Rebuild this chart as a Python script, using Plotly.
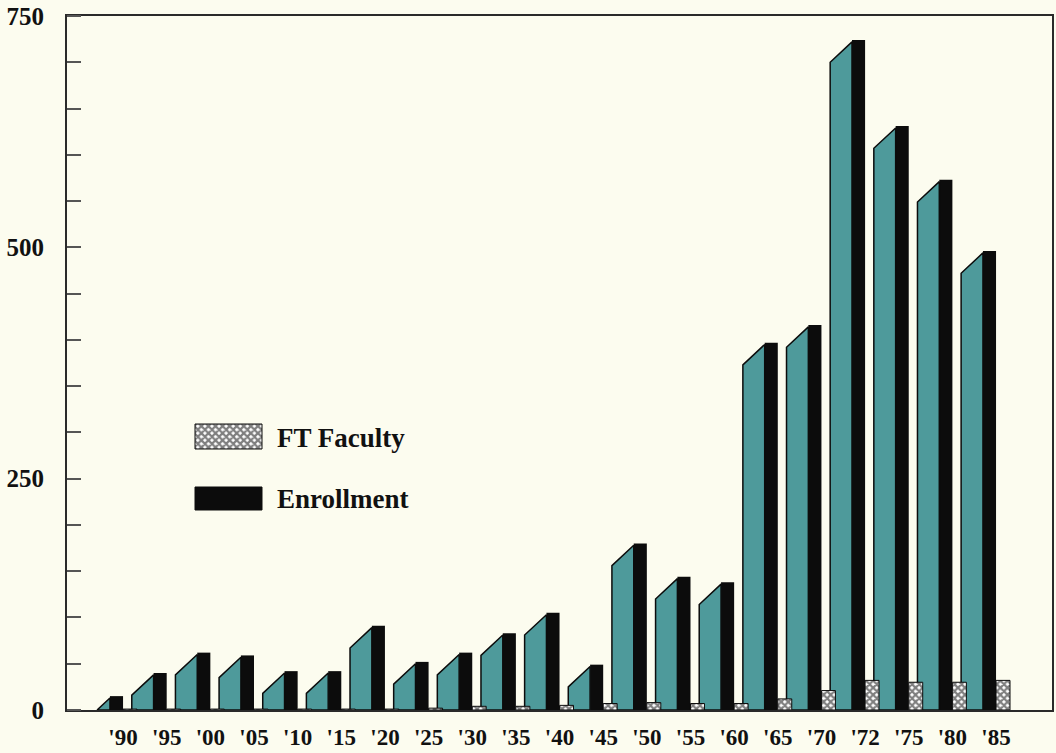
import plotly.graph_objects as go

# ---- data -------------------------------------------------------------
years = ["'90", "'95", "'00", "'05", "'10", "'15", "'20", "'25", "'30", "'35", "'40",
         "'45", "'50", "'55", "'60", "'65", "'70", "'72", "'75", "'80", "'85"]
enrollment = [15, 40, 62, 59, 42, 42, 91, 52, 62, 83, 105,
              49, 180, 144, 138, 397, 416, 724, 631, 573, 496]
ft_faculty = [1, 1, 1, 1, 1, 1, 1, 2, 4, 4, 5,
              7, 8, 7, 7, 12, 21, 32, 30, 30, 32]
y_tick_vals = [0, 250, 500, 750]

# ---- style ------------------------------------------------------------
BG = "#FCFCEF"
TEAL = "#4E9A9B"
INK = "#0c0c0c"
AXIS = "#2a2a2a"
SERIF = "Liberation Serif, Times New Roman, serif"
Y_FONT = dict(family=SERIF, size=25, color="#111")
X_FONT = dict(family=SERIF, size=23, color="#111")
LEGEND_FONT = dict(family=SERIF, size=27, color="#111")

FRONT_W = 0.30     # black front face width (category units)
SIDE_W = 0.50      # teal side face width
SIDE_DROP = 24     # back edge of the side face sits this far below the top
SIDE_GAP = 2       # side face meets the front face slightly below its top
FAC_W = 0.32       # faculty bar width

X_RANGE = [-1.134, 21.432]
Y_RANGE = [0, 750]
M_L, M_R, M_T, M_B = 67, 4, 16, 43
W, H = 1056, 753
PLOT_W = W - M_L - M_R
PLOT_H = H - M_T - M_B

xs = list(range(len(years)))


def px_x(p):
    return X_RANGE[0] + (p - M_L) / PLOT_W * (X_RANGE[1] - X_RANGE[0])


def px_y(p):
    return (H - M_B - p) / PLOT_H * (Y_RANGE[1] - Y_RANGE[0])


# teal side faces (parallelograms clipped at the baseline)
side_x, side_y = [], []
for i, v in zip(xs, enrollment):
    xb = i - FRONT_W / 2
    xl = xb - SIDE_W
    top_r = v - SIDE_GAP
    top_l = v - SIDE_DROP
    if top_l >= 0:
        pts = [(xl, 0), (xl, top_l), (xb, top_r), (xb, 0), (xl, 0)]
    else:
        xc = xb - SIDE_W * top_r / (top_r - top_l)
        pts = [(xc, 0), (xb, top_r), (xb, 0), (xc, 0)]
    for px, py in pts:
        side_x.append(px)
        side_y.append(py)
    side_x.append(None)
    side_y.append(None)

# faculty bars, standing just right of each front face
fac_x, fac_y = [], []
for i, f in zip(xs, ft_faculty):
    x0 = i + FRONT_W / 2
    x1 = x0 + FAC_W
    for px, py in [(x0, 0), (x0, f), (x1, f), (x1, 0), (x0, 0)]:
        fac_x.append(px)
        fac_y.append(py)
    fac_x.append(None)
    fac_y.append(None)

HATCH = dict(shape="x", fgcolor="#000", bgcolor="#ffffff", size=5, solidity=0.7)

fig = go.Figure()

fig.add_trace(go.Bar(
    x=xs, y=enrollment, width=FRONT_W,
    marker=dict(color=INK, line=dict(width=0)),
    hoverinfo="skip", showlegend=False,
))

fig.add_trace(go.Scatter(
    x=side_x, y=side_y, mode="lines", fill="toself",
    fillcolor=TEAL, line=dict(color=INK, width=1.5),
    hoverinfo="skip", showlegend=False,
))

fig.add_trace(go.Scatter(
    x=fac_x, y=fac_y, mode="lines", fill="toself",
    fillcolor="#ffffff", fillpattern=HATCH,
    line=dict(color=INK, width=1),
    hoverinfo="skip", showlegend=False,
))

# legend swatches
lx0, lx1 = px_x(195), px_x(262)
fy0, fy1 = px_y(449), px_y(424)
ey0, ey1 = px_y(510), px_y(487)
fig.add_trace(go.Scatter(
    x=[lx0, lx0, lx1, lx1, lx0], y=[fy0, fy1, fy1, fy0, fy0],
    mode="lines", fill="toself", fillcolor="#ffffff", fillpattern=HATCH,
    line=dict(color=INK, width=1), hoverinfo="skip", showlegend=False,
))
fig.add_trace(go.Scatter(
    x=[lx0, lx0, lx1, lx1, lx0], y=[ey0, ey1, ey1, ey0, ey0],
    mode="lines", fill="toself", fillcolor=INK,
    line=dict(color=INK, width=1), hoverinfo="skip", showlegend=False,
))

fig.add_annotation(x=px_x(275), y=px_y(438), text="<b>FT Faculty</b>",
                   showarrow=False, xanchor="left", yanchor="middle", font=LEGEND_FONT)
fig.add_annotation(x=px_x(275), y=px_y(499), text="<b>Enrollment</b>",
                   showarrow=False, xanchor="left", yanchor="middle", font=LEGEND_FONT)

fig.update_layout(
    width=W, height=H,
    margin=dict(l=M_L, r=M_R, t=M_T, b=M_B, pad=0),
    paper_bgcolor=BG, plot_bgcolor=BG,
    showlegend=False,
    xaxis=dict(
        range=X_RANGE, showgrid=False, zeroline=False, automargin=False,
        showline=True, mirror=True, linecolor=AXIS, linewidth=2,
        tickmode="array", tickvals=[i + 0.15 for i in xs],
        ticktext=[f"<b>{y}</b>" for y in years],
        ticks="", tickfont=X_FONT, ticklabelstandoff=5,
    ),
    yaxis=dict(
        range=Y_RANGE, showgrid=False, zeroline=False, automargin=False,
        showline=True, mirror=True, linecolor=AXIS, linewidth=2,
        tickmode="array", tickvals=y_tick_vals,
        ticktext=[f"<b>{v}</b>" for v in y_tick_vals],
        ticks="", tickfont=Y_FONT, ticklabelstandoff=16,
        minor=dict(tickmode="linear", tick0=0, dtick=50, ticks="inside",
                   ticklen=14, tickwidth=2, tickcolor="#555", showgrid=False),
    ),
)

fig.write_html("out.html")
